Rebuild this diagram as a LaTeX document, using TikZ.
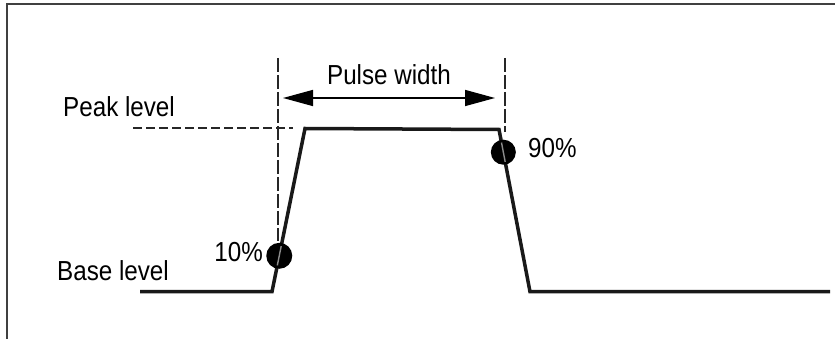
\documentclass[tikz,border=0pt]{standalone}
\usepackage{fontspec}
\setmainfont{Liberation Sans}[FakeStretch=0.88]
\usetikzlibrary{calc,arrows.meta}

\begin{document}
\begin{tikzpicture}[x=1pt,y=-1pt,font=\fontsize{27.5}{32}\selectfont,
    pulse/.style={line width=3.5pt,color=black!90,line join=miter},
    guide/.style={line width=1.1pt,color=black!85,dash pattern=on 14pt off 3pt},
    dot/.style={fill=black}]
                \useasboundingbox (0,0) rectangle (835,339);
                \draw[line width=1.7pt,black!75] (7,339)--(7,4)--(835,4);
                \coordinate (b0) at (140,291.7);
                \coordinate (b1) at (272,291.7);
                \coordinate (p1) at (305,128.5);
                \coordinate (p2) at (499,129.5);
                \coordinate (b2) at (530,291.7);
                \coordinate (b3) at (830,291.7);
                \coordinate (d10) at ($(b1)!0.22!(p1)$);
                \coordinate (d90) at ($(p2)!0.14!(b2)$);
                \coordinate (gL) at (278,58);
                \coordinate (gR) at (505,58);
                \coordinate (aL) at (283,98);
                \coordinate (aR) at (495,98);
                \coordinate (hL) at (133,128);
                \coordinate (hR) at (293,128);
                \draw[guide] (gL)--(278,241);
                \draw[guide] (gR)--(505,132);
                \draw[guide,dash pattern=on 9pt off 4pt] (hL)--(hR);
                \draw[pulse] (b0)--(b1)--(p1)--(p2)--(b2)--(b3);
                \fill[dot] (d10) circle (13); \fill[dot] (d90) circle (12.5);
                \begin{scope}
                  \clip (d10) circle (10) (d90) circle (10);
                  \draw[line width=1.4pt,black!45] (b1)--(p1)--(p2)--(b2);
                \end{scope}
                \draw[{Triangle[length=30pt,width=16pt]}-{Triangle[length=30pt,width=16pt]},line width=1.5pt] (aL)--(aR);
                \node[anchor=base,inner sep=0] (pw) at (389,85) {Pulse width};
                \node[anchor=base west,inner sep=0] (peak) at (63,116.7) {Peak level};
                \node[anchor=base west,inner sep=0] (base) at (57,280) {Base level};
                \node[anchor=base east,inner sep=0] (ten) at (263,261.7) {10\%};
                \node[anchor=base west,inner sep=0] (ninety) at (528,158) {90\%};
            \end{tikzpicture}
\end{document}
